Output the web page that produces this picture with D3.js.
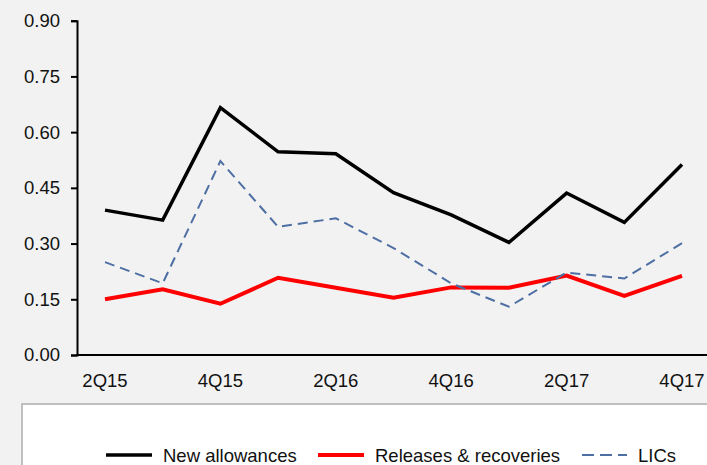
<!DOCTYPE html>
<html>
<head>
<meta charset="utf-8">
<script src="https://cdn.jsdelivr.net/npm/d3@7"></script>
<style>
  body { margin: 0; background: #f2f2f2; }
  svg { display: block; font-family: "Liberation Sans", Arial, sans-serif; }
</style>
</head>
<body>
<div id="chart"></div>
<script>
const quarters = ['2Q15', '3Q15', '4Q15', '1Q16', '2Q16', '3Q16', '4Q16', '1Q17', '2Q17', '3Q17', '4Q17']
const newAllowances = [0.390, 0.363, 0.666, 0.547, 0.542, 0.437, 0.377, 0.303, 0.436, 0.357, 0.513]
const releases = [0.150, 0.177, 0.138, 0.208, 0.181, 0.154, 0.182, 0.181, 0.214, 0.159, 0.213]
const lics = [0.250, 0.193, 0.522, 0.345, 0.368, 0.288, 0.193, 0.130, 0.222, 0.206, 0.301]
const yTicks = [0, 0.15, 0.30, 0.45, 0.60, 0.75, 0.90]
const xLabels = ['2Q15', '4Q15', '2Q16', '4Q16', '2Q17', '4Q17']

const series = [
    { name: 'New allowances', values: newAllowances, color: '#000000', width: 3.5, dash: null },
    { name: 'Releases & recoveries', values: releases, color: '#ff0000', width: 4, dash: null },
    { name: 'LICs', values: lics, color: '#4e6fa3', width: 2, dash: '10,6' }
]

const W = 707, H = 465
const fontSize = 18.5
const svg = d3.select('#chart').append('svg')
    .attr('width', W)
    .attr('height', H)

svg.append('rect').attr('width', W).attr('height', H).attr('fill', '#f2f2f2')

const axisX = 77
const x = d3.scalePoint().domain(quarters).range([105, 682])
const y = d3.scaleLinear().domain([0, 0.9]).range([355, 20.7])

// y axis
const yAxis = svg.append('g')
    .attr('transform', `translate(${axisX},0)`)
    .call(d3.axisLeft(y).tickValues(yTicks).tickFormat(d3.format('.2f')).tickSize(6).tickPadding(11))
yAxis.select('.domain').attr('stroke', '#000').attr('stroke-width', 2)
yAxis.selectAll('.tick line').attr('stroke', '#000').attr('stroke-width', 2)
yAxis.selectAll('.tick text').attr('font-size', fontSize).attr('fill', '#111')
    .attr('font-family', '"Liberation Sans", Arial, sans-serif')

// x axis line
svg.append('line')
    .attr('x1', axisX - 1).attr('x2', W)
    .attr('y1', y(0)).attr('y2', y(0))
    .attr('stroke', '#000').attr('stroke-width', 2)

svg.selectAll('.xlabel').data(xLabels)
    .enter()
    .append('text')
    .attr('class', 'xlabel')
    .attr('x', d => x(d))
    .attr('y', 387)
    .attr('text-anchor', 'middle')
    .attr('font-size', fontSize)
    .attr('fill', '#111')
    .text(d => d)

const line = d3.line()
    .x((d, i) => x(quarters[i]))
    .y(d => y(d))

svg.selectAll('.series').data(series)
    .enter()
    .append('path')
    .attr('class', 'series')
    .attr('d', d => line(d.values))
    .attr('fill', 'none')
    .attr('stroke', d => d.color)
    .attr('stroke-width', d => d.width)
    .attr('stroke-dasharray', d => d.dash)
    .attr('stroke-linejoin', 'miter')

// legend box
svg.append('rect')
    .attr('x', 22).attr('y', 404)
    .attr('width', W).attr('height', 80)
    .attr('fill', '#ffffff')
    .attr('stroke', '#bfbfbf')
    .attr('stroke-width', 2)

const legendPos = [106, 318, 582]
const legendLen = [46, 46, 45]
const legend = svg.selectAll('.legend').data(series)
    .enter()
    .append('g')
    .attr('class', 'legend')
    .attr('transform', (d, i) => `translate(${legendPos[i]},455)`)

legend.append('line')
    .attr('x1', 0).attr('x2', (d, i) => legendLen[i])
    .attr('y1', 0).attr('y2', 0)
    .attr('stroke', d => d.color)
    .attr('stroke-width', d => d.width)
    .attr('stroke-dasharray', d => d.dash ? '12,6' : null)

legend.append('text')
    .attr('x', (d, i) => legendLen[i] + 11)
    .attr('y', 6.5)
    .attr('font-size', fontSize)
    .attr('fill', '#111')
    .text(d => d.name)
</script>
</body>
</html>
